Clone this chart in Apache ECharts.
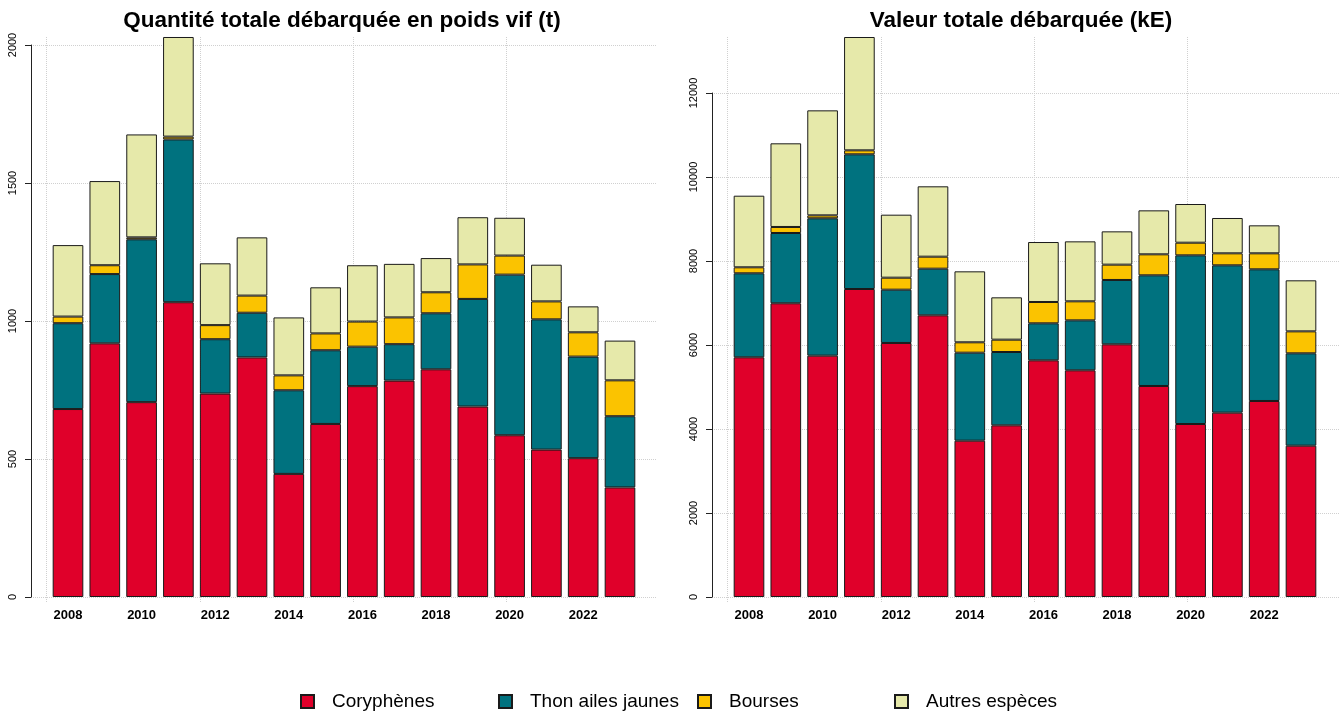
<!DOCTYPE html>
<html>
<head>
<meta charset="utf-8">
<script src="https://cdn.jsdelivr.net/npm/echarts@6/dist/echarts.min.js"></script>
<style>
html,body{margin:0;padding:0;background:#fff;}
#chart{width:1339px;height:711px;}
</style>
</head>
<body>
<div id="chart"></div>
<script>
// ---- Data ----
const years = ['2008','2009','2010','2011','2012','2013','2014','2015','2016','2017','2018','2019','2020','2021','2022','2023'];
const seriesNames = ['Coryphènes','Thon ailes jaunes','Bourses','Autres espèces'];

// Quantité totale débarquée en poids vif (t)
const qtyCoryphenes = [681, 919, 706, 1068, 737, 868, 446, 627, 764, 784, 825, 690, 586, 534, 503, 397];
const qtyThon       = [311, 251, 590, 590, 197, 162, 303, 267, 143, 132, 203, 390, 582, 472, 368, 258];
const qtyBourses    = [ 24,  32,   7,  10,  51,  62,  54,  61,  91,  97,  76, 125,  69,  65,  88, 130];
const qtyAutres     = [259, 305, 373, 361, 224, 211, 210, 167, 204, 194, 124, 171, 137, 133,  94, 144];

// Valeur totale débarquée (kE)
const valCoryphenes = [5707, 6993, 5746, 7333, 6048, 6706, 3722, 4087, 5635, 5397, 6016, 5024, 4119, 4389, 4667, 3603];
const valThon       = [2000, 1674, 3270, 3207, 1269, 1111, 2095, 1746,  881, 1190, 1532, 2635, 4016, 3508, 3135, 2199];
const valBourses    = [ 143,  143,   71,   95,  286,  286,  247,  294,  508,  453,  365,  500,  301,  286,  381,  523];
const valAutres     = [1705, 1992, 2500, 2698, 1500, 1675, 1690, 1008, 1428, 1428,  793, 1047,  921,  841,  666, 1215];

// Axis tick settings
const qtyAxis = {min: 0, max: 2000, interval: 500};
const valAxis = {min: 0, max: 12000, interval: 2000};

const titles = ['Quantité totale débarquée en poids vif (t)', 'Valeur totale débarquée (kE)'];

// ---- Styles ----
const colors = ['#E0002A', '#00727F', '#FBC300', '#E6E9AA'];
const FONT = '"Liberation Sans", Arial, sans-serif';
const gridLine = {show: true, lineStyle: {color: '#d0d0d0', type: 'dotted', width: 1}};

const chart = echarts.init(document.getElementById('chart'), null, {renderer: 'canvas'});

const panels = [
  {axisX: 31, plotRight: 656, barLeft: 49.6, top: 45, vMin: -0.507, vMax: 19.87, axis: qtyAxis,
   data: [qtyCoryphenes, qtyThon, qtyBourses, qtyAutres], titleX: 342},
  {axisX: 712, plotRight: 1339, barLeft: 730.6, top: 93, vMin: -0.507, vMax: 19.94, axis: valAxis,
   data: [valCoryphenes, valThon, valBourses, valAutres], titleX: 1021}
];
const barBandWidth = 588.8;
const zeroY = 597;

const grid = [], xAxis = [], yAxis = [], series = [], title = [];
panels.forEach((p, pi) => {
  const base = pi * 3;
  grid.push({left: p.axisX, width: p.plotRight - p.axisX, top: 37, bottom: 711 - 603, containLabel: false});
  xAxis.push({gridIndex: base, type: 'value', min: p.vMin, max: p.vMax,
    axisLine: {show: false}, axisTick: {show: false}, axisLabel: {show: false},
    splitLine: Object.assign({showMinLine: false, showMaxLine: false}, gridLine)});
  yAxis.push({gridIndex: base, type: 'value', show: false, min: 0, max: 1, splitLine: {show: false}});

  grid.push({left: p.axisX, width: p.plotRight - p.axisX, top: p.top, bottom: 711 - zeroY, containLabel: false});
  xAxis.push({gridIndex: base + 1, type: 'value', show: false, min: 0, max: 1, splitLine: {show: false}});
  yAxis.push({gridIndex: base + 1, type: 'value', min: p.axis.min, max: p.axis.max, interval: p.axis.interval,
    axisLine: {show: true, lineStyle: {color: '#222', width: 1}},
    axisTick: {show: true, length: 6, lineStyle: {color: '#222'}},
    axisLabel: {rotate: 90, margin: 13, color: '#000', fontSize: 11, fontFamily: FONT,
      formatter: v => String(v)},
    splitLine: gridLine});

  grid.push({left: p.barLeft, width: barBandWidth, top: p.top, bottom: 711 - zeroY, containLabel: false});
  xAxis.push({gridIndex: base + 2, type: 'category', data: years,
    axisLine: {show: false}, axisTick: {show: false},
    axisLabel: {interval: 1, margin: 12, color: '#000', fontSize: 13, fontWeight: 'bold', fontFamily: FONT},
    splitLine: {show: false}});
  yAxis.push({gridIndex: base + 2, type: 'value', show: false, min: p.axis.min, max: p.axis.max, splitLine: {show: false}});
  seriesNames.forEach((name, si) => {
    series.push({
      name: name, type: 'bar', stack: 'panel' + pi,
      xAxisIndex: base + 2, yAxisIndex: base + 2,
      data: p.data[si], barWidth: '83.3%', clip: false,
      itemStyle: {color: colors[si], borderColor: '#1a1a1a', borderWidth: 1},
      emphasis: {disabled: true}, animation: false
    });
  });
  title.push({text: titles[pi], left: p.titleX, top: 9, textAlign: 'center', padding: 0,
    textStyle: {fontFamily: FONT, fontSize: 22.5, fontWeight: 'bold', color: '#000'}});
});

const legendLefts = [300, 498, 697, 894];
const legend = seriesNames.map((name, i) => ({
  data: [name], left: legendLefts[i], top: 692, padding: 0, icon: 'rect', itemWidth: 13, itemHeight: 13,
  selectedMode: false,
  textStyle: {fontFamily: FONT, fontSize: 19, color: '#000', padding: [0, 0, 0, 13]}
}));

chart.setOption({
  animation: false,
  backgroundColor: '#fff',
  title: title,
  legend: legend,
  grid: grid,
  xAxis: xAxis,
  yAxis: yAxis,
  series: series
});
</script>
</body>
</html>
